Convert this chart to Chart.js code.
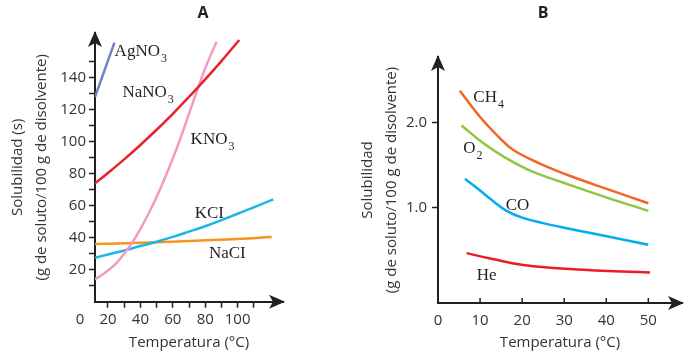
<!DOCTYPE html>
<html>
<head>
<meta charset="utf-8">
<script src="https://cdn.jsdelivr.net/npm/chart.js@4/dist/chart.umd.min.js"></script>
<style>
  html, body { margin: 0; padding: 0; background: #fff; width: 696px; height: 354px; overflow: hidden; }
  canvas { position: absolute; top: 0; }
  #chartA { left: 0; }
  #chartB { left: 348px; }
</style>
</head>
<body>
<canvas id="chartA" width="348" height="354"></canvas>
<canvas id="chartB" width="348" height="354"></canvas>
<script>
// --- A: sólidos ---
const tempAgNO3 = [12, 18, 24]
const agno3 = [128, 145, 162]
const tempNaNO3 = [12, 20, 30, 40, 50, 60, 70, 80, 90, 101]
const nano3 = [74, 80.5, 89, 98, 107.5, 117.5, 128, 139, 150.4, 163.6]
const tempKNO3 = [12, 16, 20, 25, 30, 35, 40, 45, 50, 55, 60, 65, 70, 75, 80, 87]
const kno3 = [14, 16.5, 19.5, 24, 30, 37, 45.5, 55, 65.5, 77, 89.5, 103, 117.5, 132, 146, 162.5]
const tempKCl = [12, 20, 30, 40, 50, 60, 70, 80, 90, 100, 110, 122]
const kcl = [27.5, 29.5, 32, 34.8, 37.5, 40.5, 43.8, 47.2, 51, 55, 59, 64]
const tempNaCl = [12, 40, 70, 100, 121]
const nacl = [36, 36.8, 37.9, 39.2, 40.5]

const xTicksA = [20, 30, 40, 50, 60, 70, 80, 90, 100, 110]
const xLabelsA = [20, 40, 60, 80, 100]
const yTicksA = [10, 20, 30, 40, 50, 60, 70, 80, 90, 100, 110, 120, 130, 140, 150]
const yLabelsA = [20, 40, 60, 80, 100, 120, 140]

// --- B: gases ---
const tempCH4 = [5.2, 10, 14.7, 17.9, 24.2, 32.1, 40.1, 50]
const ch4 = [2.38, 2.07, 1.82, 1.68, 1.52, 1.36, 1.22, 1.05]
const tempO2 = [5.6, 10.8, 16.3, 22.6, 30, 40, 50]
const o2 = [1.97, 1.76, 1.58, 1.42, 1.29, 1.12, 0.96]
const tempCO = [6.4, 10, 13, 16.3, 20, 25, 30, 36, 43, 50]
const co = [1.34, 1.2, 1.08, 0.96, 0.88, 0.815, 0.76, 0.7, 0.63, 0.56]
const tempHe = [6.8, 13, 20.3, 32.1, 50.4]
const he = [0.46, 0.39, 0.32, 0.27, 0.23]

const xTicksB = [0, 10, 20, 30, 40, 50]
const yTicksB = [1, 2]

// curve names, anchored in data units
const namesA = [
  { text: "AgNO", sub: "3", t: 24.1, v: 153.6 },
  { text: "NaNO", sub: "3", t: 28.9, v: 127.8 },
  { text: "KNO", sub: "3", t: 71.0, v: 98.6 },
  { text: "KCI", sub: "", t: 73.5, v: 52.1 },
  { text: "NaCI", sub: "", t: 82.3, v: 27.1 }
]
const namesB = [
  { text: "CH", sub: "4", t: 8.4, v: 2.25 },
  { text: "O", sub: "2", t: 6.0, v: 1.64 },
  { text: "CO", sub: "", t: 16.1, v: 0.97 },
  { text: "He", sub: "", t: 9.2, v: 0.14 }
]

const axisColor = "#231f20"
const textColor = "#333333"
const sansFont = "'Open Sans', sans-serif"
const serifFont = "'Liberation Serif', serif"

const pts = (xs, ys) => xs.map((x, i) => ({ x, y: ys[i] }))
const line = (xs, ys, color) => ({
  data: pts(xs, ys), borderColor: color, borderWidth: 2.5, pointRadius: 0,
  tension: 0.4, fill: false
})

function arrow(ctx, x, y, dir) {
  ctx.save()
  ctx.translate(x, y)
  if (dir === "right") ctx.rotate(Math.PI / 2)
  ctx.beginPath()
  ctx.moveTo(0, 0)
  ctx.lineTo(7, 16)
  ctx.lineTo(0, 12)
  ctx.lineTo(-7, 16)
  ctx.closePath()
  ctx.fillStyle = axisColor
  ctx.fill()
  ctx.restore()
}

const decor = {
  id: "decor",
  afterDraw(chart, args, opts) {
    const { ctx, chartArea: a, scales: { x, y } } = chart
    arrow(ctx, a.left, a.top - 2, "up")
    arrow(ctx, a.right + 2, a.bottom, "right")
    ctx.save()
    ctx.textBaseline = "alphabetic"
    ctx.fillStyle = "#231f20"
    opts.names.forEach(n => {
      const px = x.getPixelForValue(n.t), py = y.getPixelForValue(n.v)
      ctx.font = "17px " + serifFont
      ctx.fillText(n.text, px, py)
      if (n.sub) {
        const w = ctx.measureText(n.text).width
        ctx.font = "12px " + serifFont
        ctx.fillText(n.sub, px + w + 1, py + 6)
      }
    })
    ctx.font = "bold 16px " + sansFont
    ctx.textAlign = "center"
    ctx.fillText(opts.title, opts.titleX, 18)
    if (opts.zero) {
      ctx.font = "15px " + sansFont
      ctx.fillStyle = textColor
      ctx.fillText("0", a.left - 15, a.bottom + 22)
    }
    if (opts.innerTicks) {
      ctx.strokeStyle = axisColor
      ctx.lineWidth = 1.5
      x.ticks.forEach(t => {
        if (t.value === 0) return
        const px = x.getPixelForValue(t.value)
        ctx.beginPath()
        ctx.moveTo(px, a.bottom)
        ctx.lineTo(px, a.bottom - 5)
        ctx.stroke()
      })
    }
    ctx.restore()
  }
}

const tickFont = { family: sansFont, size: 15 }
const titleFont = { family: sansFont, size: 15, lineHeight: 1.6 }

new Chart(document.getElementById("chartA"), {
  type: "line",
  data: {
    datasets: [
      line(tempAgNO3, agno3, "#6b86c8"),
      line(tempNaNO3, nano3, "#e8242a"),
      line(tempKNO3, kno3, "#f49ac1"),
      line(tempKCl, kcl, "#1cb5ea"),
      line(tempNaCl, nacl, "#f7941d")
    ]
  },
  options: {
    responsive: false,
    animation: false,
    devicePixelRatio: 1,
    layout: { padding: { left: 0, right: 65, top: 33, bottom: 0 } },
    plugins: {
      legend: { display: false },
      tooltip: { enabled: false },
      decor: { names: namesA, title: "A", titleX: 203, zero: true }
    },
    scales: {
      x: {
        type: "linear", min: 12, max: 128,
        afterBuildTicks: s => { s.ticks = xTicksA.map(v => ({ value: v })) },
        afterFit: s => { s.height = 52.3 },
        ticks: { autoSkip: false, maxRotation: 0, padding: 3, color: textColor, font: tickFont,
          callback: v => xLabelsA.includes(v) ? String(v) : "" },
        grid: { drawOnChartArea: false, tickLength: 6, tickWidth: 1.5, color: axisColor },
        border: { color: axisColor, width: 2 },
        title: { display: true, text: "Temperatura (°C)", color: textColor,
          font: { family: sansFont, size: 15 }, padding: { top: 0, bottom: 2 } }
      },
      y: {
        type: "linear", min: 0, max: 168,
        afterBuildTicks: s => { s.ticks = yTicksA.map(v => ({ value: v })) },
        afterFit: s => { s.width = 95 },
        ticks: { autoSkip: false, padding: 3, color: textColor, font: tickFont,
          callback: v => yLabelsA.includes(v) ? String(v) : "" },
        grid: { drawOnChartArea: false, tickLength: 6, tickWidth: 1.5, color: axisColor },
        border: { color: axisColor, width: 2 },
        title: { display: true, text: ["Solubilidad (s)", "(g de soluto/100 g de disolvente)"],
          color: textColor, font: titleFont, padding: { top: 6, bottom: 0 } }
      }
    }
  },
  plugins: [decor]
})

new Chart(document.getElementById("chartB"), {
  type: "line",
  data: {
    datasets: [
      line(tempCH4, ch4, "#f26522"),
      line(tempO2, o2, "#8dc63f"),
      line(tempCO, co, "#00aeef"),
      line(tempHe, he, "#ed1c24")
    ]
  },
  options: {
    responsive: false,
    animation: false,
    devicePixelRatio: 1,
    layout: { padding: { left: 0, right: 14, top: 57, bottom: 0 } },
    plugins: {
      legend: { display: false },
      tooltip: { enabled: false },
      decor: { names: namesB, title: "B", titleX: 195, innerTicks: true }
    },
    scales: {
      x: {
        type: "linear", min: 0, max: 58,
        afterBuildTicks: s => { s.ticks = xTicksB.map(v => ({ value: v })) },
        afterFit: s => { s.height = 51 },
        ticks: { autoSkip: false, maxRotation: 0, padding: 9, color: textColor, font: tickFont },
        grid: { drawOnChartArea: false, drawTicks: false, color: axisColor },
        border: { color: axisColor, width: 2 },
        title: { display: true, text: "Temperatura (°C)", color: textColor,
          font: { family: sansFont, size: 15 }, padding: { top: 0, bottom: 2 } }
      },
      y: {
        type: "linear", min: -0.13, max: 2.78,
        afterBuildTicks: s => { s.ticks = yTicksB.map(v => ({ value: v })) },
        afterFit: s => { s.width = 90 },
        ticks: { autoSkip: false, padding: 5, color: textColor, font: tickFont,
          callback: v => v.toFixed(1) },
        grid: { drawOnChartArea: false, tickLength: 6, tickWidth: 1.5, color: axisColor },
        border: { color: axisColor, width: 2 },
        title: { display: true, text: ["Solubilidad", "(g de soluto/100 g de disolvente)"],
          color: textColor, font: titleFont, padding: { top: 8, bottom: 0 } }
      }
    }
  },
  plugins: [decor]
})
</script>
</body>
</html>
